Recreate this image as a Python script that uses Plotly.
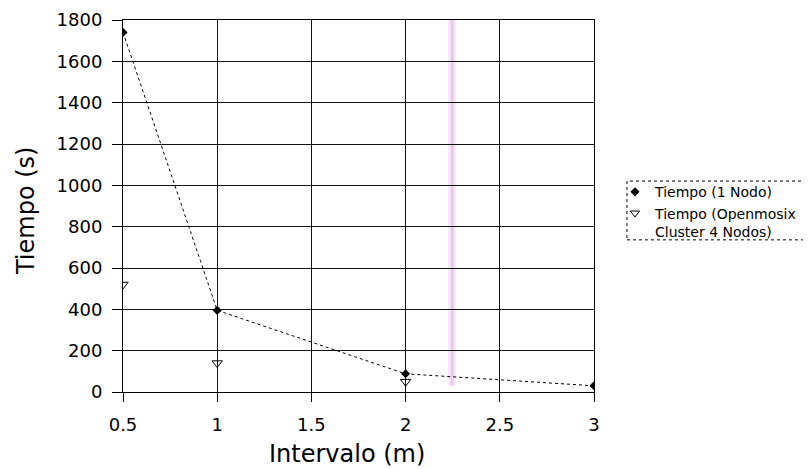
import plotly.graph_objects as go

x_one = [0.5, 1, 2, 3]
t_one = [1740, 395, 88, 30]
x_cluster = [0.5, 1, 2]
t_cluster = [520, 140, 50]

x_ticks = [0.5, 1, 1.5, 2, 2.5, 3]
x_tick_labels = ["0.5", "1", "1.5", "2", "2.5", "3"]
y_ticks = [0, 200, 400, 600, 800, 1000, 1200, 1400, 1600, 1800]

name_one = "Tiempo (1 Nodo)"
name_cluster = "Tiempo (Openmosix<br>Cluster 4 Nodos)"
x_title = "Intervalo (m)"
y_title = "Tiempo (s)"

fig = go.Figure()
fig.add_trace(go.Scatter(
    x=x_one, y=t_one, mode="lines+markers", name=name_one, showlegend=False,
    line=dict(color="black", width=1, dash="dot"),
    marker=dict(symbol="diamond", size=7, color="black"),
))
fig.add_trace(go.Scatter(
    x=x_cluster, y=t_cluster, mode="markers", name=name_cluster, showlegend=False,
    marker=dict(symbol="triangle-down-open", size=9, color="black",
                line=dict(width=1, color="black")),
))
# legend entries (markers only, as in the reference)
fig.add_trace(go.Scatter(
    x=[None], y=[None], mode="markers", name=name_one,
    marker=dict(symbol="diamond", size=7, color="black"),
))
fig.add_trace(go.Scatter(
    x=[None], y=[None], mode="markers", name=name_cluster,
    marker=dict(symbol="triangle-down-open", size=8, color="black",
                line=dict(width=1, color="black")),
))

# faint scan artefact band
fig.add_shape(type="rect", xref="x", yref="y", x0=2.224, x1=2.270, y0=30, y1=1800,
              fillcolor="rgba(230,200,235,0.35)", line=dict(width=0), layer="below")
fig.add_shape(type="rect", xref="x", yref="y", x0=2.238, x1=2.256, y0=30, y1=1800,
              fillcolor="rgba(215,165,225,0.45)", line=dict(width=0), layer="below")

# legend frame
fig.add_shape(type="rect", xref="paper", yref="paper", x0=1.070, x1=1.6, y0=0.409, y1=0.567,
              line=dict(color="black", width=1, dash="dot"), fillcolor="rgba(0,0,0,0)")

fig.add_annotation(text=x_title, xref="paper", yref="paper", x=0.4756, y=-0.1667,
                   xanchor="center", yanchor="middle", showarrow=False,
                   font=dict(family="DejaVu Sans", size=24, color="black"))
fig.add_annotation(text=y_title, xref="paper", yref="paper", x=-0.206, y=0.489,
                   xanchor="center", yanchor="middle", showarrow=False, textangle=-90,
                   font=dict(family="DejaVu Sans", size=24, color="black"))

axis_common = dict(showline=True, linecolor="black", linewidth=1, mirror=True,
                   showgrid=True, gridcolor="#111111", gridwidth=1,
                   ticks="outside", tickcolor="black",
                   tickfont=dict(family="DejaVu Sans", size=18, color="black"),
                   zeroline=False)

fig.update_layout(
    width=811, height=469,
    margin=dict(l=115, r=225, t=12, b=85, autoexpand=False),
    paper_bgcolor="white", plot_bgcolor="white",
    font=dict(family="DejaVu Sans", color="black"),
    xaxis=dict(range=[0.5, 3], tickvals=x_ticks, ticktext=x_tick_labels,
               ticklen=9, ticklabelstandoff=7, **axis_common),
    yaxis=dict(range=[0, 1800], tickvals=y_ticks, ticklen=10, ticklabelstandoff=6,
               **axis_common),
    legend=dict(x=1.0446, y=0.580, xanchor="left", yanchor="top",
                borderwidth=0, bgcolor="rgba(0,0,0,0)", valign="top",
                font=dict(family="DejaVu Sans", size=14, color="black"),
                itemwidth=30, tracegroupgap=0),
    showlegend=True,
)

fig.write_html("out.html")
